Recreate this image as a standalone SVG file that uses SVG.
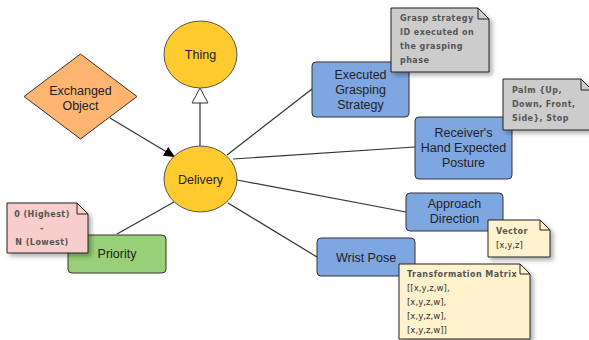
<svg xmlns="http://www.w3.org/2000/svg" width="589" height="340" viewBox="0 0 589 340">
<defs>
<style>
.lbl{font-family:"Liberation Sans",Arial,sans-serif;font-size:12.5px;fill:#222;text-anchor:middle}
.nt{font-family:"DejaVu Sans",Verdana,sans-serif;font-size:8px;font-weight:bold;fill:#555;letter-spacing:0.45px}
.nn{font-family:"DejaVu Sans",Verdana,sans-serif;font-size:8.6px;fill:#333}
.ell{fill:#FFCA2E;stroke:#555;stroke-width:1}
.box{stroke:#333;stroke-width:1}
.blue{fill:#7EA6E0}
.note{stroke:#222;stroke-width:1}
.con{stroke:#333;stroke-width:1.2;fill:none}
</style>
<filter id="sh" x="-20%" y="-20%" width="150%" height="150%">
<feDropShadow dx="3" dy="3" stdDeviation="2" flood-color="#000" flood-opacity="0.3"/>
</filter>
<marker id="fa" markerWidth="12" markerHeight="10" refX="11" refY="5" orient="auto" markerUnits="userSpaceOnUse">
<path d="M0,0 L11,5 L0,10 Z" fill="#000"/>
</marker>
</defs>
<g id="connectors">
<line class="con" x1="110" y1="118" x2="175" y2="157" marker-end="url(#fa)"/>
<line class="con" x1="200" y1="146" x2="200" y2="103" stroke="#555" stroke-width="1.5"/>
<path d="M200,88 L208,103 L192,103 Z" fill="#fff" stroke="#333" stroke-width="1"/>
<line class="con" x1="227" y1="155" x2="312" y2="89"/>
<line class="con" x1="233" y1="159" x2="415" y2="147"/>
<line class="con" x1="237" y1="180" x2="406" y2="212"/>
<line class="con" x1="228" y1="203" x2="317" y2="257"/>
<line class="con" x1="174" y1="202" x2="117" y2="234"/>
</g>
<g id="thing">
<ellipse class="ell" cx="200.5" cy="54.5" rx="36.5" ry="33.5"/>
<text class="lbl" x="200.5" y="59">Thing</text>
</g>
<g id="exchanged-object">
<path d="M80.5,54 L137,96.5 L80.5,139 L24,96.5 Z" fill="#FFB570" stroke="#333" stroke-width="1"/>
<text class="lbl" x="80.5" y="95">Exchanged</text>
<text class="lbl" x="80.5" y="110">Object</text>
</g>
<g id="delivery">
<ellipse class="ell" cx="200.5" cy="179" rx="36.5" ry="33"/>
<text class="lbl" x="200.5" y="183.5">Delivery</text>
</g>
<g id="executed-grasping-strategy">
<rect class="box blue" x="312" y="62" width="97" height="55" rx="4"/>
<text class="lbl" x="360.5" y="78.5">Executed</text>
<text class="lbl" x="360.5" y="93.5">Grasping</text>
<text class="lbl" x="360.5" y="108.5">Strategy</text>
</g>
<g id="note-grasp">
<path class="note" filter="url(#sh)" d="M391,8 H478 L489,19 V72 H391 Z" fill="#CCCCCC"/>
<path d="M478,8 V19 H489" fill="none" stroke="#222" stroke-width="1"/>
<text class="nt" x="400" y="21">Grasp strategy</text>
<text class="nt" x="400" y="35">ID executed on</text>
<text class="nt" x="400" y="49">the grasping</text>
<text class="nt" x="400" y="63">phase</text>
</g>
<g id="receivers-hand">
<rect class="box blue" x="415" y="117" width="97" height="62" rx="4"/>
<text class="lbl" x="463.5" y="136.5">Receiver's</text>
<text class="lbl" x="463.5" y="151.5">Hand Expected</text>
<text class="lbl" x="463.5" y="166.5">Posture</text>
</g>
<g id="note-palm">
<path class="note" filter="url(#sh)" d="M503,79 H581 L592,90 V130 H503 Z" fill="#CCCCCC"/>
<path d="M581,79 V90 H592" fill="none" stroke="#222" stroke-width="1"/>
<text class="nt" x="512" y="93">Palm {Up,</text>
<text class="nt" x="512" y="107">Down, Front,</text>
<text class="nt" x="512" y="121">Side}, Stop</text>
</g>
<g id="approach-direction">
<rect class="box blue" x="406" y="193" width="97" height="38" rx="4"/>
<text class="lbl" x="454.5" y="207.5">Approach</text>
<text class="lbl" x="454.5" y="222.5">Direction</text>
</g>
<g id="note-vector">
<path class="note" filter="url(#sh)" d="M488,220 H540 L550,230 V257 H488 Z" fill="#FFF2CC"/>
<path d="M540,220 V230 H550" fill="none" stroke="#222" stroke-width="1"/>
<text class="nt" x="496" y="234">Vector</text>
<text class="nn" x="496" y="248">[x,y,z]</text>
</g>
<g id="wrist-pose">
<rect class="box blue" x="317" y="238" width="98" height="38" rx="4"/>
<text class="lbl" x="366" y="261.5">Wrist Pose</text>
</g>
<g id="note-matrix">
<path class="note" filter="url(#sh)" d="M399,264 H520 L530,274 V339 H399 Z" fill="#FFF2CC"/>
<path d="M520,264 V274 H530" fill="none" stroke="#222" stroke-width="1"/>
<text class="nt" x="407" y="277">Transformation Matrix</text>
<text class="nn" x="407" y="291">[[x,y,z,w],</text>
<text class="nn" x="407" y="305">[x,y,z,w],</text>
<text class="nn" x="407" y="319">[x,y,z,w],</text>
<text class="nn" x="407" y="333">[x,y,z,w]]</text>
</g>
<g id="priority">
<rect class="box" x="68" y="235" width="98" height="38" rx="4" fill="#97D077"/>
<text class="lbl" x="117" y="257.5">Priority</text>
</g>
<g id="note-priority">
<path class="note" filter="url(#sh)" d="M7,203 H77 L88,214 V253 H7 Z" fill="#F8CECC"/>
<path d="M77,203 V214 H88" fill="none" stroke="#222" stroke-width="1"/>
<text class="nt" x="42" y="217" text-anchor="middle">0 (Highest)</text>
<text class="nt" x="42" y="231" text-anchor="middle">-</text>
<text class="nt" x="42" y="245" text-anchor="middle">N (Lowest)</text>
</g>
</svg>
